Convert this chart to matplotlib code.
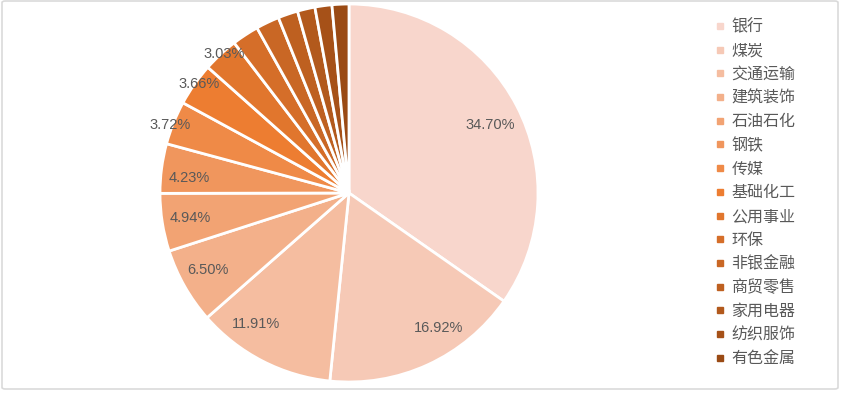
import matplotlib
matplotlib.use('Agg')
import matplotlib.pyplot as plt
import numpy as np
from matplotlib.lines import Line2D
from matplotlib.patches import FancyBboxPatch
from matplotlib.colors import to_rgb

plt.rcParams['font.family'] = ['Noto Sans CJK SC', 'DejaVu Sans']

# Industry shares (%), clockwise from 12 o'clock
industries = ['银行', '煤炭', '交通运输', '建筑装饰', '石油石化', '钢铁', '传媒', '基础化工',
              '公用事业', '环保', '非银金融', '商贸零售', '家用电器', '纺织服饰', '有色金属']
shares = [34.70, 16.92, 11.91, 6.50, 4.94, 4.23, 3.72, 3.66,
          3.03, 2.30, 2.00, 1.70, 1.50, 1.45, 1.44]
labelled = 9  # only the first slices carry a percentage

# label placement tweaks (radius fraction, angle nudge in degrees, clockwise)
label_r = [0.83, 0.86, 0.85, 0.85, 0.85, 0.85, 1.01, 0.98, 0.99]
label_nudge = [2, -9, 8, 1, 0, -2, -1, 1, 1]

# monochrome orange palette: light tint -> orange -> dark shade
light, mid, dark = np.array(to_rgb('#F8D6CC')), np.array(to_rgb('#ED7D31')), np.array(to_rgb('#9A4A14'))
colors = []
for i in range(len(shares)):
    if i <= 7:
        t = i / 7
        colors.append(tuple(light + (mid - light) * t))
    else:
        t = (i - 7) / 7
        colors.append(tuple(mid + (dark - mid) * t))

W, H = 842, 394
fig = plt.figure(figsize=(W / 100, H / 100), dpi=100)

# outer frame
fig.patches.append(FancyBboxPatch((2 / W, 5 / H), 836 / W, 388 / H,
                                  boxstyle='round,pad=0,rounding_size=0.004',
                                  transform=fig.transFigure, facecolor='none',
                                  edgecolor='#DADADA', linewidth=1.2, zorder=-1))

cx, cy, r = 349, 193, 189
ax = fig.add_axes([(cx - r) / W, (H - cy - r) / H, 2 * r / W, 2 * r / H])
wedges, _ = ax.pie(shares, colors=colors, startangle=90, counterclock=False,
                   wedgeprops=dict(edgecolor='white', linewidth=2))
ax.set_xlim(-1, 1)
ax.set_ylim(-1, 1)
ax.axis('off')

total = sum(shares)
cum = 0
for i, s in enumerate(shares):
    if i < labelled:
        ang = np.deg2rad((cum + s / 2) / total * 360 + label_nudge[i])
        x = label_r[i] * np.sin(ang)
        y = label_r[i] * np.cos(ang)
        ax.text(x, y, f'{s:.2f}%', ha='center', va='center', fontsize=10.5,
                color='#595959', family=['Liberation Sans', 'DejaVu Sans'])
    cum += s

handles = [Line2D([], [], marker='s', linestyle='none', markersize=5,
                  markerfacecolor=c, markeredgecolor=c) for c in colors]
leg = fig.legend(handles, industries, loc='upper left', bbox_to_anchor=(715 / W, 1 - 18.5 / H),
                 frameon=False, fontsize=11.5, labelspacing=0.42, handletextpad=0.43,
                 handlelength=0.6, borderpad=0, borderaxespad=0)
for t in leg.get_texts():
    t.set_color('#595959')

fig.savefig('out.png', dpi=100)
